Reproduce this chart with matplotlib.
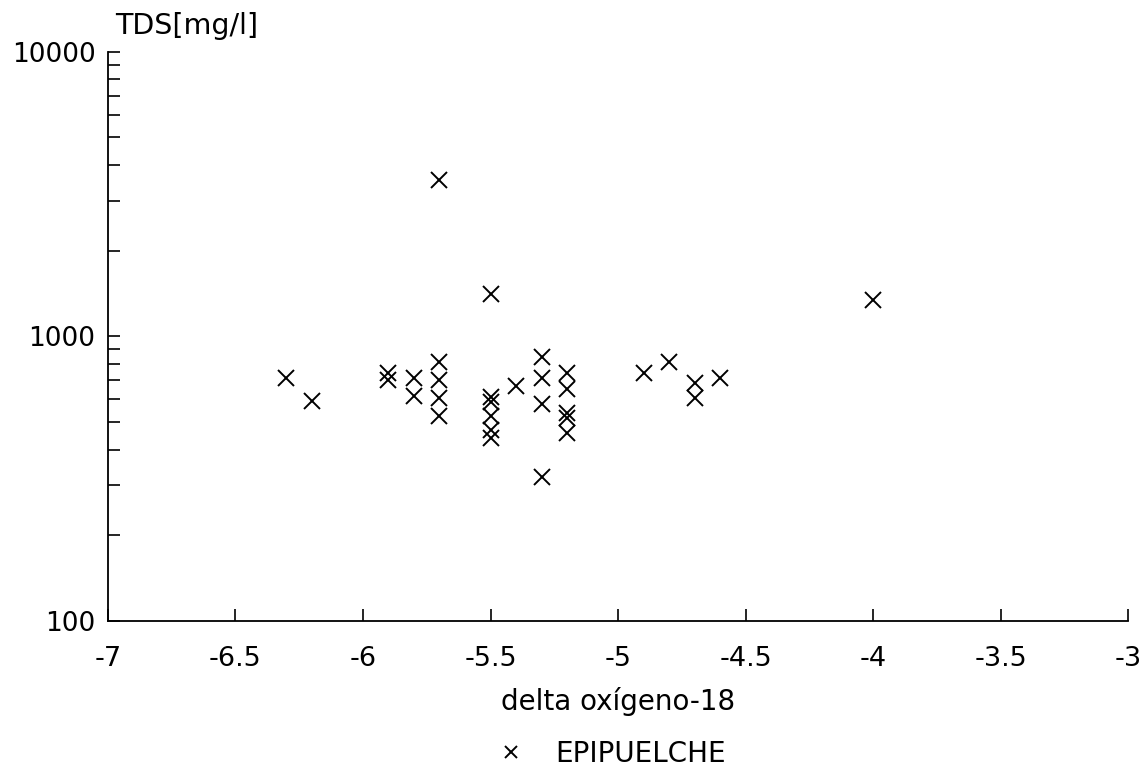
import matplotlib

matplotlib.use("Agg")
import matplotlib.pyplot as plt
from matplotlib.ticker import LogLocator, NullFormatter, FixedLocator

# delta O-18 (per mil) and TDS (mg/l)
delta_o18 = [
    -6.3, -6.2,
    -5.9, -5.9,
    -5.8, -5.8,
    -5.7, -5.7, -5.7, -5.7,
    -5.7,
    -5.5, -5.5, -5.5, -5.5, -5.5,
    -5.5,
    -5.4,
    -5.3, -5.3, -5.3, -5.3,
    -5.2, -5.2, -5.2, -5.2, -5.2,
    -4.9, -4.8, -4.7, -4.7, -4.6,
    -4.0,
]
tds = [
    715, 593,
    745, 703,
    715, 618,
    813, 703, 608, 525,
    3550,
    613, 589, 525, 469, 439,
    1410,
    670,
    847, 715, 580, 321,
    745, 653, 539, 517, 458,
    745, 813, 687, 608, 715,
    1343,
]

x_ticks = [-7, -6.5, -6, -5.5, -5, -4.5, -4, -3.5, -3]
x_tick_labels = ["-7", "-6.5", "-6", "-5.5", "-5", "-4.5", "-4", "-3.5", "-3"]
y_ticks = [100, 1000, 10000]
y_tick_labels = ["100", "1000", "10000"]

plt.rcParams["font.family"] = ["DejaVu Sans"]

fig = plt.figure(figsize=(11.45, 7.84), dpi=100)
ax = fig.add_axes([0.0943, 0.208, 0.8909, 0.726])

ax.plot(delta_o18, tds, linestyle="none", marker="x", markersize=11.5,
        markeredgewidth=1.4, color="black", label="EPIPUELCHE")

ax.set_yscale("log")
ax.set_xlim(-7, -3)
ax.set_ylim(100, 10000)

ax.xaxis.set_major_locator(FixedLocator(x_ticks))
ax.set_xticklabels(x_tick_labels)
ax.yaxis.set_major_locator(FixedLocator(y_ticks))
ax.set_yticklabels(y_tick_labels)
ax.yaxis.set_minor_locator(LogLocator(base=10, subs=range(2, 10)))
ax.yaxis.set_minor_formatter(NullFormatter())

for side in ["top", "right"]:
    ax.spines[side].set_visible(False)
for side in ["left", "bottom"]:
    ax.spines[side].set_linewidth(1.3)

ax.tick_params(axis="x", which="major", direction="in", length=8.5, width=1.2,
               pad=18, labelsize=19.5)
ax.tick_params(axis="y", which="both", direction="in", length=8.5, width=1.2,
               pad=9, labelsize=19)

ax.set_xlabel("delta oxígeno-18", fontsize=20, labelpad=11)
fig.text(115 / 1145, 1 - 26 / 784, "TDS[mg/l]", fontsize=20.5, va="center", ha="left")

leg = ax.legend(loc="upper center", bbox_to_anchor=(0.495, -0.165), frameon=False,
                fontsize=20, handletextpad=1.2, markerscale=0.8, handlelength=0.8)

fig.savefig("out.png", dpi=100, facecolor="white")
